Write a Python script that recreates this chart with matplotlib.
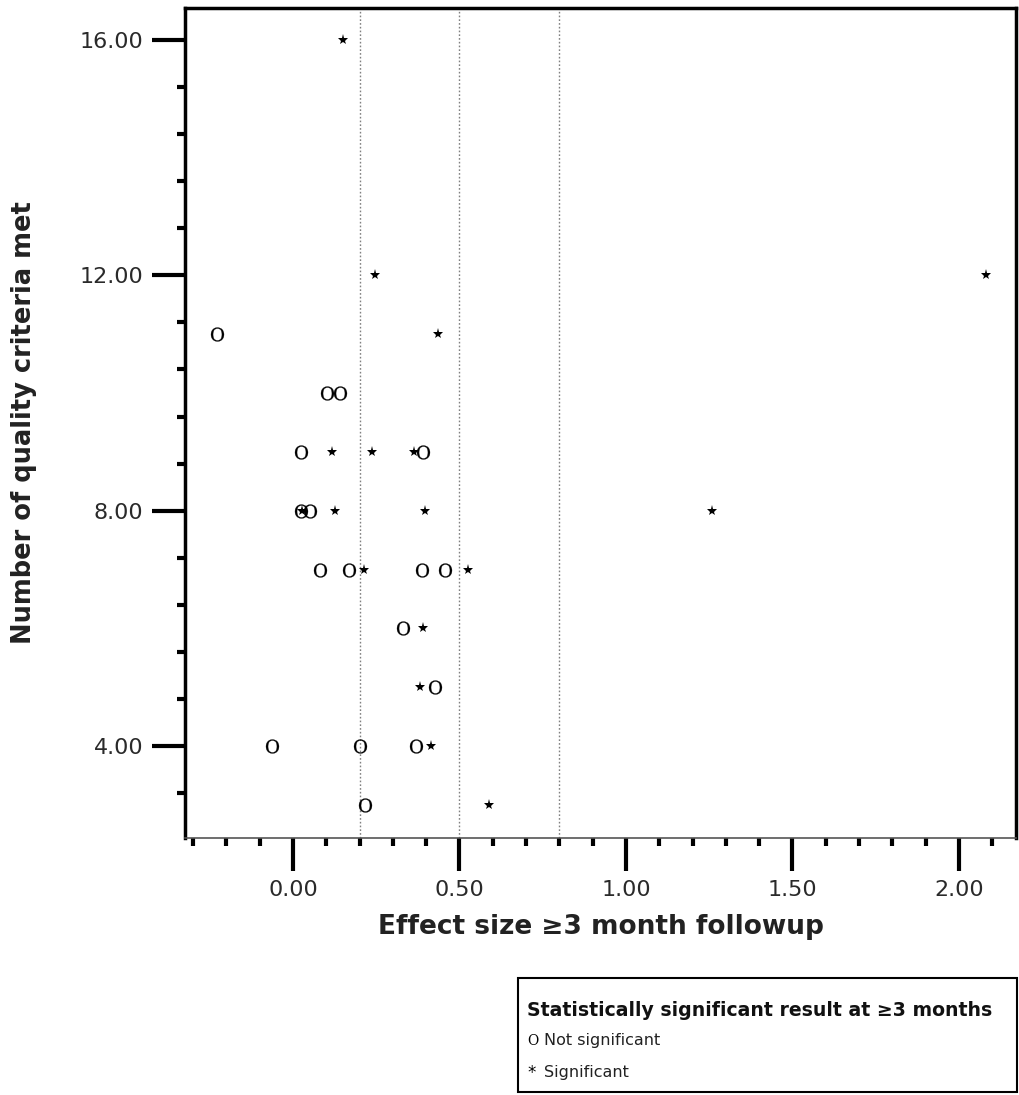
import matplotlib
matplotlib.use("Agg")
from matplotlib import pyplot as plt
from matplotlib.patches import Rectangle
from matplotlib.ticker import MultipleLocator, FormatStrFormatter

plt.rcParams['font.family'] = ['DejaVu Sans']
plt.rcParams['mathtext.fontset'] = 'dejavuserif'

# not significant studies: effect size, quality criteria met
ns_effect = [-0.229, 0.101, 0.141, 0.024, 0.390, 0.023, 0.051, 0.081, 0.169,
             0.388, 0.458, 0.329, 0.426, -0.062, 0.201, 0.369, 0.217]
ns_quality = [11, 10, 10, 9, 9, 8, 8, 7, 7, 7, 7, 6, 5, 4, 4, 4, 3]

# significant studies
sig_effect = [0.149, 0.246, 2.081, 0.436, 0.118, 0.237, 0.363, 0.027, 0.126,
              0.398, 1.257, 0.214, 0.527, 0.391, 0.383, 0.414, 0.590]
sig_quality = [16, 12, 12, 11, 9, 9, 9, 8, 8, 8, 8, 7, 7, 6, 5, 4, 3]

ref_lines = [0.2, 0.5, 0.8]

fig = plt.figure(figsize=(10.19, 10.95), dpi=100)
ax = fig.add_axes([0.1816, 0.2347, 0.8154, 0.758])

for v in ref_lines:
    ax.axvline(v, color='#808080', linestyle=(0, (1.2, 1.5)), linewidth=1.0, zorder=1)

ax.plot(ns_effect, ns_quality, linestyle='none', marker=r'$\mathrm{O}$',
        markersize=10, color='black', markeredgewidth=0.2, zorder=3)
ax.plot(sig_effect, sig_quality, linestyle='none', marker='*',
        markersize=8, color='black', markeredgewidth=0, zorder=3)

ax.set_xlim(-0.324, 2.171)
ax.set_ylim(2.44, 16.54)

ax.xaxis.set_major_locator(MultipleLocator(0.5))
ax.xaxis.set_minor_locator(MultipleLocator(0.1))
ax.yaxis.set_major_locator(MultipleLocator(4))
ax.yaxis.set_minor_locator(MultipleLocator(0.8))
ax.xaxis.set_major_formatter(FormatStrFormatter('%.2f'))
ax.yaxis.set_major_formatter(FormatStrFormatter('%.2f'))

ax.tick_params(which='major', direction='out', length=24, width=3, labelsize=16,
               pad=6, color='black', labelcolor='#2a2a2a')
ax.tick_params(which='minor', direction='out', length=6, width=3, color='black')

for side in ['left', 'top', 'right']:
    ax.spines[side].set_linewidth(2.5)
    ax.spines[side].set_color('black')
ax.spines['bottom'].set_linewidth(1.2)
ax.spines['bottom'].set_color('#555555')

ax.set_xlabel('Effect size \u22653 month followup', fontsize=19, fontweight='bold',
              color='#222222', labelpad=10)
ax.set_ylabel('Number of quality criteria met', fontsize=18.5, fontweight='bold',
              color='#222222')
ax.yaxis.set_label_coords(-0.178, 0.5)

# legend box
fig.patches.append(Rectangle((0.5083, 0.0027), 0.4897, 0.1041, transform=fig.transFigure,
                             fill=False, edgecolor='black', linewidth=1.5))
fig.text(0.5172, 0.0776, 'Statistically significant result at \u22653 months',
         fontsize=13.6, fontweight='bold', color='#111111', va='center', ha='left')
fig.text(0.5172, 0.0502, r'$\mathrm{O}$', fontsize=10, va='center', ha='left')
fig.text(0.5335, 0.0502, 'Not significant', fontsize=11.5, va='center', ha='left',
         color='#222222')
fig.text(0.5172, 0.0200, '*', fontsize=12, va='center', ha='left')
fig.text(0.5335, 0.0210, 'Significant', fontsize=11.5, va='center', ha='left',
         color='#222222')

fig.savefig('out.png', dpi=100, facecolor='white')
